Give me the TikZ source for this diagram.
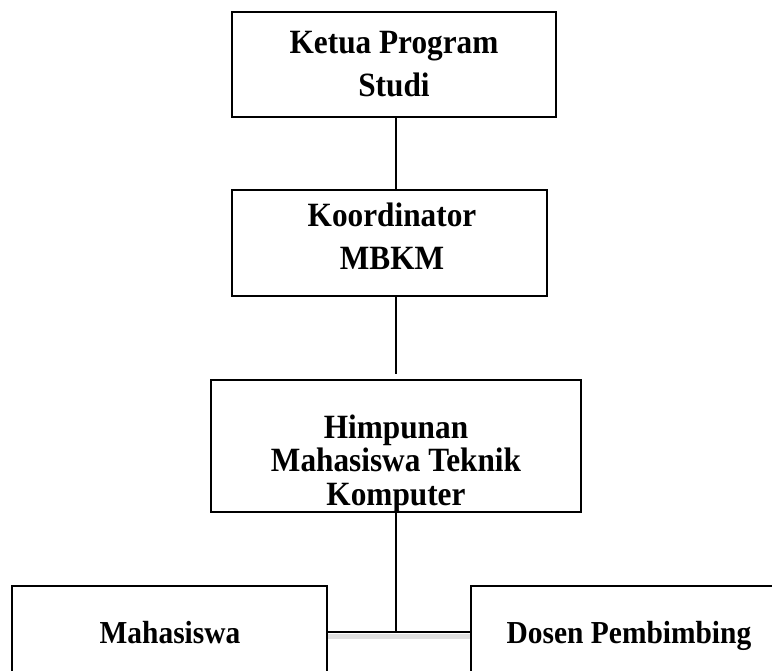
\documentclass[tikz,border=0pt]{standalone}
\usepackage{fontspec}
\setmainfont{Liberation Serif}[FakeStretch=0.92]
\usepackage{tikz}
\usetikzlibrary{calc}

\begin{document}
\begin{tikzpicture}[x=1pt, y=1pt]

\tikzset{
  kotak/.style={rectangle, draw=black, line width=2.4pt,
    inner sep=0pt, fill=white},
  teks/.style={align=center, anchor=base, inner sep=0pt,
    font=\fontsize{34}{43}\selectfont\bfseries},
  teksb/.style={teks, font=\fontsize{32}{36}\selectfont\bfseries},
  garis/.style={line width=2.4pt}
}

% ---- FRAME ----
\clip (0,0) rectangle (772,-671);
\useasboundingbox (0,0) rectangle (772,-671);

% ---- BOXES ----
\node (kaprodi)    [kotak, minimum width=324, minimum height=105] at (394,-64.5) {};
\node (koordinator)[kotak, minimum width=315, minimum height=106] at (389.5,-243) {};
\node (hmtk)       [kotak, minimum width=370, minimum height=132] at (396,-446) {};
\node (mahasiswa)  [kotak, minimum width=315, minimum height=92]  at (169.5,-632) {};
\node (dosen)      [kotak, minimum width=316, minimum height=92]  at (629,-632) {};

% ---- TEXTS (last baseline) ----
\node (tkaprodi)   [teks] at (394,-97)    {Ketua Program\\Studi};
\node (tkoord)     [teks] at (392,-270)   {Koordinator\\MBKM};
\node (thmtk)      [teks, font=\fontsize{34}{33.5}\selectfont\bfseries]
  at (396,-505) {Himpunan\\Mahasiswa Teknik\\Komputer};
\node (tmahasiswa) [teksb] at (170,-643)  {Mahasiswa};
\node (tdosen)     [teksb] at (629,-643)  {Dosen Pembimbing};

% ---- LINES ----
\draw[garis] (hmtk.north |- kaprodi.south) -- (hmtk.north |- koordinator.north);
\draw[garis, shorten >=5pt] (hmtk.north |- koordinator.south) -- (hmtk.north);
\draw[black!12, line width=5pt] ($(mahasiswa.east)+(0,-4)$) -- ($(dosen.west)+(0,-4)$);
\draw[garis] (mahasiswa.east) -- (dosen.west);
\draw[garis] (hmtk.south) -- (hmtk.south |- mahasiswa.east);

\end{tikzpicture}
\end{document}
